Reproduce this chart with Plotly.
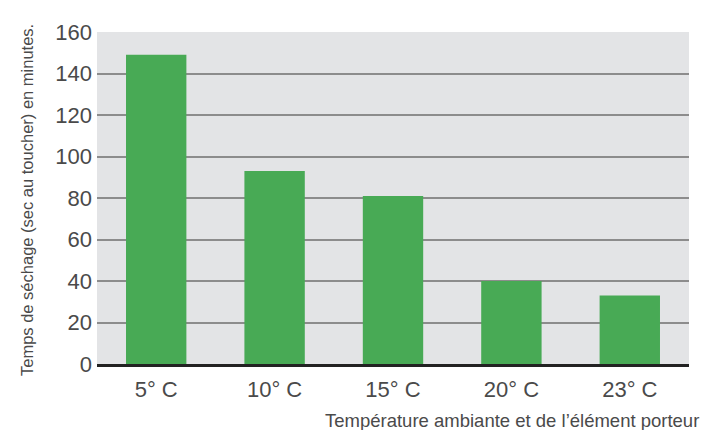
import plotly.graph_objects as go

categories = ["5° C", "10° C", "15° C", "20° C", "23° C"]
values = [149, 93, 81, 40, 33]
y_ticks = [0, 20, 40, 60, 80, 100, 120, 140, 160]

y_title = "Temps de séchage (sec au toucher) en minutes."
x_title = "Température ambiante et de l’élément porteur"

FONT = "Liberation Sans, Arial, Helvetica, sans-serif"
TXT = "#4a4a4a"

fig = go.Figure(go.Bar(
    x=categories, y=values,
    marker=dict(color="#48aa55", line=dict(width=0)),
    hoverinfo="skip",
))

# page body adds an 8px offset, so the figure is sized to fit the window
fig.update_layout(
    width=704, height=422,
    margin=dict(l=89, r=23, t=13, b=66),
    paper_bgcolor="white",
    plot_bgcolor="#e3e4e6",
    bargap=0.49,
    showlegend=False,
    font=dict(family=FONT, color=TXT),
    xaxis=dict(
        showgrid=False,
        showline=True, linecolor="#222222", linewidth=3,
        ticks="", tickfont=dict(size=22, color=TXT, family=FONT),
        ticklabelstandoff=4,
    ),
    yaxis=dict(
        range=[0, 160],
        tickvals=y_ticks,
        showgrid=True, gridcolor="#8c8c8c", gridwidth=2,
        zeroline=False, showline=False,
        ticks="",
        tickfont=dict(size=22, color=TXT, family=FONT),
        ticklabelstandoff=4,
    ),
    annotations=[
        dict(text=y_title, xref="paper", yref="paper", x=0, y=0.5,
             xanchor="center", yanchor="middle", textangle=-90, showarrow=False,
             xshift=-70, yshift=-2, font=dict(size=16.5, color=TXT, family=FONT)),
        dict(text=x_title, xref="paper", yref="paper", x=1, y=0,
             xanchor="right", yanchor="middle", showarrow=False,
             xshift=12, yshift=-56, font=dict(size=18.5, color=TXT, family=FONT)),
    ],
)

fig.write_html("out.html")
